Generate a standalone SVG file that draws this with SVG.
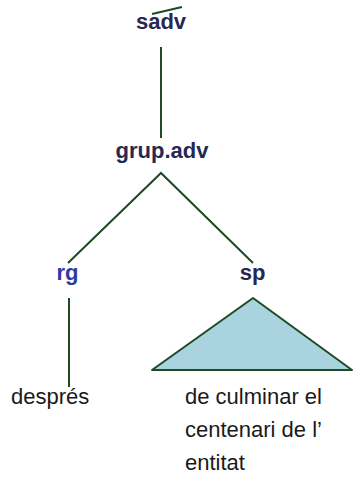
<svg xmlns="http://www.w3.org/2000/svg" width="353" height="479" viewBox="0 0 353 479">
<style>
.lbl{font-family:"Liberation Sans",Arial,sans-serif;font-size:22px;font-weight:bold;fill:#272753;text-anchor:middle}
.blue{fill:#2d3aa6}
.word{font-family:"Liberation Sans",Arial,sans-serif;font-size:22px;fill:#1a1a1a}
.edge{stroke:#1f4a22;stroke-width:2;fill:none}
</style>
<rect width="353" height="479" fill="#ffffff"/>
<g id="connectors">
<line class="edge" x1="152" y1="14" x2="182" y2="7"/>
<line class="edge" x1="161" y1="47" x2="161" y2="138"/>
<polyline class="edge" points="68,263 161,173 253,263"/>
<line class="edge" x1="69" y1="298" x2="69" y2="387"/>
</g>
<g id="sadv"><text class="lbl" x="161" y="29">sadv</text></g>
<g id="grup-adv"><text class="lbl" x="162" y="158">grup.adv</text></g>
<g id="rg"><text class="lbl blue" x="67.5" y="280">rg</text></g>
<g id="sp"><text class="lbl" x="252.5" y="280">sp</text></g>
<g id="sp-triangle"><polygon points="253,298 152,370 352,370" fill="#a9d3df" stroke="#1f4a22" stroke-width="2" stroke-linejoin="round"/></g>
<g id="despres"><text class="word" x="11" y="404">després</text></g>
<g id="phrase">
<text class="word" x="185" y="404">de culminar el</text>
<text class="word" x="185" y="437">centenari de l’</text>
<text class="word" x="185" y="470">entitat</text>
</g>
</svg>
